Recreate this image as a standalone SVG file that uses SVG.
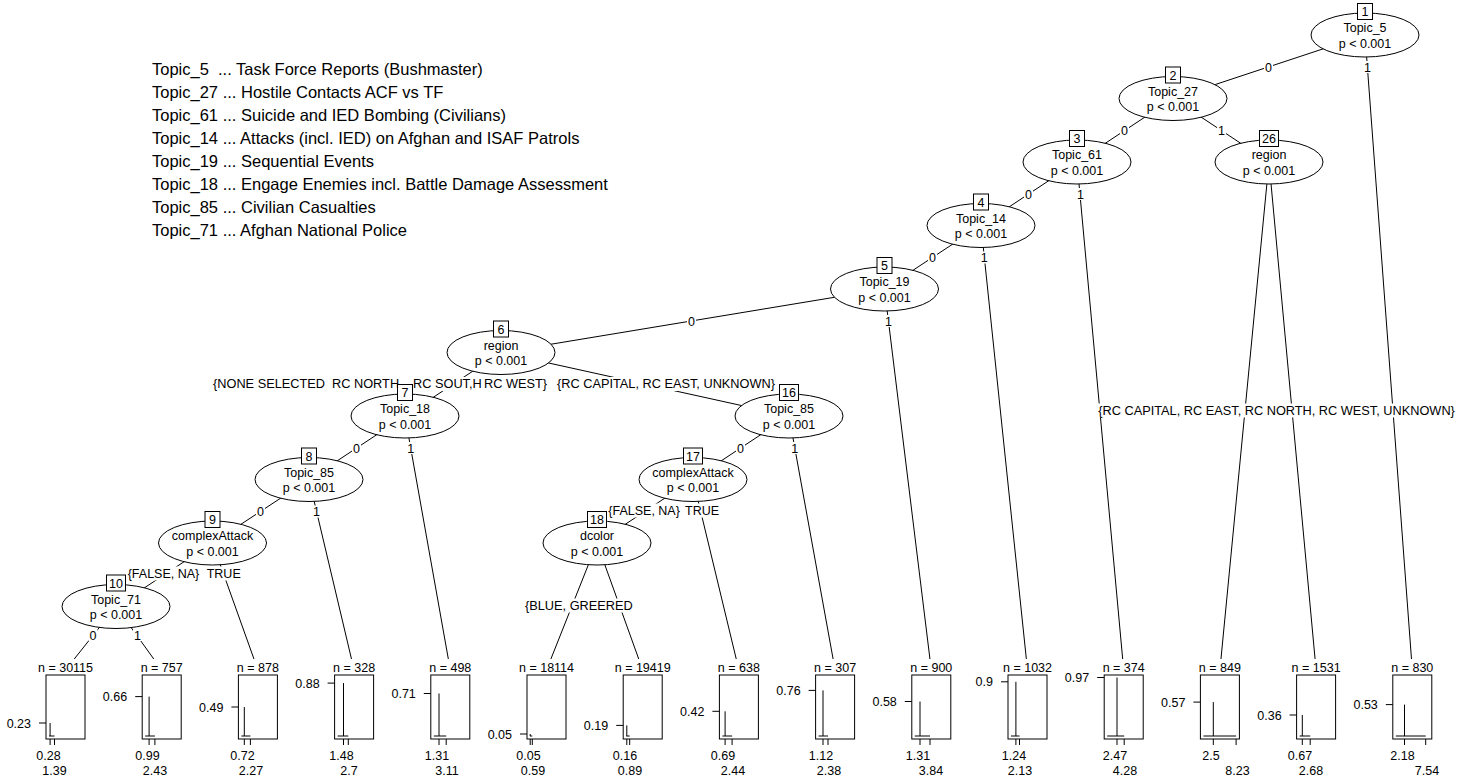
<svg xmlns="http://www.w3.org/2000/svg" width="1470" height="784" viewBox="0 0 1470 784">
<style>
text{font-family:"Liberation Sans",Arial,Helvetica,sans-serif;font-size:12.5px;fill:#000}
.c{text-anchor:middle}
.e{text-anchor:end}
.f{font-size:12.75px;white-space:pre}
.leg{font-size:16.5px;white-space:pre}
.ln{stroke:#000;stroke-width:1;fill:none}
.ell{fill:#fff;stroke:#000;stroke-width:1}
.nb{fill:#fff;stroke:#000;stroke-width:1}
.bg{fill:#fff;stroke:none}
.bx{fill:none;stroke:#000;stroke-width:1}
.sp{stroke:#000;stroke-width:1;fill:none}
</style>
<rect x="0" y="0" width="1470" height="784" fill="#fff"/>
<g id="legend">
<text class="leg" x="152" y="75">Topic_5  ... Task Force Reports (Bushmaster)</text>
<text class="leg" x="152" y="98">Topic_27 ... Hostile Contacts ACF vs TF</text>
<text class="leg" x="152" y="121">Topic_61 ... Suicide and IED Bombing (Civilians)</text>
<text class="leg" x="152" y="144">Topic_14 ... Attacks (incl. IED) on Afghan and ISAF Patrols</text>
<text class="leg" x="152" y="167">Topic_19 ... Sequential Events</text>
<text class="leg" x="152" y="190">Topic_18 ... Engage Enemies incl. Battle Damage Assessment</text>
<text class="leg" x="152" y="213">Topic_85 ... Civilian Casualties</text>
<text class="leg" x="152" y="236">Topic_71 ... Afghan National Police</text>
</g>
<g id="connectors">
<line class="ln" x1="1365" y1="35" x2="1173" y2="98.5"/>
<line class="ln" x1="1365" y1="35" x2="1412.3" y2="670"/>
<line class="ln" x1="1173" y1="98.5" x2="1077" y2="162"/>
<line class="ln" x1="1173" y1="98.5" x2="1269" y2="162"/>
<line class="ln" x1="1077" y1="162" x2="981" y2="225.5"/>
<line class="ln" x1="1077" y1="162" x2="1123.7" y2="670"/>
<line class="ln" x1="1269" y1="162" x2="1219.9" y2="670"/>
<line class="ln" x1="1269" y1="162" x2="1316.1" y2="670"/>
<line class="ln" x1="981" y1="225.5" x2="884.5" y2="289"/>
<line class="ln" x1="981" y1="225.5" x2="1027.5" y2="670"/>
<line class="ln" x1="884.5" y1="289" x2="501" y2="352.5"/>
<line class="ln" x1="884.5" y1="289" x2="931.3" y2="670"/>
<line class="ln" x1="501" y1="352.5" x2="405" y2="416"/>
<line class="ln" x1="501" y1="352.5" x2="789" y2="416"/>
<line class="ln" x1="405" y1="416" x2="309" y2="479.5"/>
<line class="ln" x1="405" y1="416" x2="450.3" y2="670"/>
<line class="ln" x1="309" y1="479.5" x2="212.5" y2="543"/>
<line class="ln" x1="309" y1="479.5" x2="354.1" y2="670"/>
<line class="ln" x1="212.5" y1="543" x2="116" y2="606.5"/>
<line class="ln" x1="212.5" y1="543" x2="257.9" y2="670"/>
<line class="ln" x1="116" y1="606.5" x2="65.5" y2="670"/>
<line class="ln" x1="116" y1="606.5" x2="161.7" y2="670"/>
<line class="ln" x1="789" y1="416" x2="693" y2="479.5"/>
<line class="ln" x1="789" y1="416" x2="835.1" y2="670"/>
<line class="ln" x1="693" y1="479.5" x2="597" y2="543"/>
<line class="ln" x1="693" y1="479.5" x2="738.9" y2="670"/>
<line class="ln" x1="597" y1="543" x2="546.5" y2="670"/>
<line class="ln" x1="597" y1="543" x2="642.7" y2="670"/>
<g id="edge-labels">
<rect class="bg" x="1264" y="61" width="9" height="12"/><text class="c" x="1268.5" y="71.5">0</text>
<rect class="bg" x="1363" y="61" width="9" height="12"/><text class="c" x="1367.5" y="71.5">1</text>
<rect class="bg" x="1120" y="124.5" width="9" height="12"/><text class="c" x="1124.6" y="135">0</text>
<rect class="bg" x="1217" y="124.5" width="9" height="12"/><text class="c" x="1221.4" y="135">1</text>
<rect class="bg" x="1024" y="188" width="9" height="12"/><text class="c" x="1028.6" y="198.5">0</text>
<rect class="bg" x="1076" y="188" width="9" height="12"/><text class="c" x="1080.5" y="198.5">1</text>
<rect class="bg" x="928" y="251.5" width="9" height="12"/><text class="c" x="932.6" y="262">0</text>
<rect class="bg" x="980" y="251.5" width="9" height="12"/><text class="c" x="984.3" y="262">1</text>
<rect class="bg" x="687" y="315" width="9" height="12"/><text class="c" x="691.5" y="325.5">0</text>
<rect class="bg" x="884" y="315" width="9" height="12"/><text class="c" x="888.4" y="325.5">1</text>
<rect class="bg" x="212" y="377" width="336" height="14"/>
<text class="f" x="213" y="388"><tspan x="213">{NONE SELECTED  RC NORTH</tspan><tspan x="413">RC SOUT,H</tspan><tspan x="484">RC WEST}</tspan></text>
<rect class="bg" x="556" y="377" width="222" height="14"/>
<text class="f" x="557" y="388">{RC CAPITAL, RC EAST, UNKNOWN}</text>
<rect class="bg" x="1097" y="403.5" width="360" height="14"/>
<text class="f" x="1098.3" y="414.5">{RC CAPITAL, RC EAST, RC NORTH, RC WEST, UNKNOWN}</text>
<rect class="bg" x="352" y="442" width="9" height="12"/><text class="c" x="356.6" y="452.5">0</text>
<rect class="bg" x="406" y="442" width="9" height="12"/><text class="c" x="410.7" y="452.5">1</text>
<rect class="bg" x="736" y="442" width="9" height="12"/><text class="c" x="740.6" y="452.5">0</text>
<rect class="bg" x="790" y="442" width="9" height="12"/><text class="c" x="794.8" y="452.5">1</text>
<rect class="bg" x="256" y="505.5" width="9" height="12"/><text class="c" x="260.6" y="516">0</text>
<rect class="bg" x="312" y="505.5" width="9" height="12"/><text class="c" x="316.6" y="516">1</text>
<rect class="bg" x="607.5" y="503.5" width="75" height="14"/><text x="608.3" y="514.5">{FALSE, NA}</text>
<rect class="bg" x="684.5" y="503.5" width="34" height="14"/><text x="685" y="514.5">TRUE</text>
<rect class="bg" x="127" y="566.5" width="73" height="14"/><text x="127.7" y="577.5">{FALSE, NA}</text>
<rect class="bg" x="206" y="566.5" width="35" height="14"/><text x="206.7" y="577.5">TRUE</text>
<rect class="bg" x="524" y="598.5" width="113" height="14"/><text class="f" x="525" y="609.5">{BLUE, GREERED</text>
<rect class="bg" x="88.5" y="629" width="9" height="12"/><text class="c" x="93" y="639.5">0</text>
<rect class="bg" x="133" y="629" width="9" height="12"/><text class="c" x="137.5" y="639.5">1</text>
</g>
</g>
<g id="node1"><ellipse class="ell" cx="1365" cy="35" rx="54" ry="22"/><rect class="nb" x="1357.5" y="3.5" width="15" height="16"/><text class="c" x="1365" y="16">1</text><text class="c" x="1365" y="32">Topic_5</text><text class="c" x="1365" y="47.5">p &lt; 0.001</text></g>
<g id="node2"><ellipse class="ell" cx="1173" cy="98.5" rx="54" ry="22"/><rect class="nb" x="1165.5" y="67" width="15" height="16"/><text class="c" x="1173" y="79.5">2</text><text class="c" x="1173" y="95.5">Topic_27</text><text class="c" x="1173" y="111">p &lt; 0.001</text></g>
<g id="node3"><ellipse class="ell" cx="1077" cy="162" rx="54" ry="22"/><rect class="nb" x="1069.5" y="130.5" width="15" height="16"/><text class="c" x="1077" y="143">3</text><text class="c" x="1077" y="159">Topic_61</text><text class="c" x="1077" y="174.5">p &lt; 0.001</text></g>
<g id="node26"><ellipse class="ell" cx="1269" cy="162" rx="54" ry="22"/><rect class="nb" x="1259.5" y="130.5" width="19" height="16"/><text class="c" x="1269" y="143">26</text><text class="c" x="1269" y="159">region</text><text class="c" x="1269" y="174.5">p &lt; 0.001</text></g>
<g id="node4"><ellipse class="ell" cx="981" cy="225.5" rx="54" ry="22"/><rect class="nb" x="973.5" y="194" width="15" height="16"/><text class="c" x="981" y="206.5">4</text><text class="c" x="981" y="222.5">Topic_14</text><text class="c" x="981" y="238">p &lt; 0.001</text></g>
<g id="node5"><ellipse class="ell" cx="884.5" cy="289" rx="54" ry="22"/><rect class="nb" x="877" y="257.5" width="15" height="16"/><text class="c" x="884.5" y="270">5</text><text class="c" x="884.5" y="286">Topic_19</text><text class="c" x="884.5" y="301.5">p &lt; 0.001</text></g>
<g id="node6"><ellipse class="ell" cx="501" cy="352.5" rx="54" ry="22"/><rect class="nb" x="493.5" y="321" width="15" height="16"/><text class="c" x="501" y="333.5">6</text><text class="c" x="501" y="349.5">region</text><text class="c" x="501" y="365">p &lt; 0.001</text></g>
<g id="node7"><ellipse class="ell" cx="405" cy="416" rx="54" ry="22"/><rect class="nb" x="397.5" y="384.5" width="15" height="16"/><text class="c" x="405" y="397">7</text><text class="c" x="405" y="413">Topic_18</text><text class="c" x="405" y="428.5">p &lt; 0.001</text></g>
<g id="node16"><ellipse class="ell" cx="789" cy="416" rx="54" ry="22"/><rect class="nb" x="779.5" y="384.5" width="19" height="16"/><text class="c" x="789" y="397">16</text><text class="c" x="789" y="413">Topic_85</text><text class="c" x="789" y="428.5">p &lt; 0.001</text></g>
<g id="node8"><ellipse class="ell" cx="309" cy="479.5" rx="54" ry="22"/><rect class="nb" x="301.5" y="448" width="15" height="16"/><text class="c" x="309" y="460.5">8</text><text class="c" x="309" y="476.5">Topic_85</text><text class="c" x="309" y="492">p &lt; 0.001</text></g>
<g id="node17"><ellipse class="ell" cx="693" cy="479.5" rx="54" ry="22"/><rect class="nb" x="683.5" y="448" width="19" height="16"/><text class="c" x="693" y="460.5">17</text><text class="c" x="693" y="476.5">complexAttack</text><text class="c" x="693" y="492">p &lt; 0.001</text></g>
<g id="node9"><ellipse class="ell" cx="212.5" cy="543" rx="54" ry="22"/><rect class="nb" x="205" y="511.5" width="15" height="16"/><text class="c" x="212.5" y="524">9</text><text class="c" x="212.5" y="540">complexAttack</text><text class="c" x="212.5" y="555.5">p &lt; 0.001</text></g>
<g id="node18"><ellipse class="ell" cx="597" cy="543" rx="54" ry="22"/><rect class="nb" x="587.5" y="511.5" width="19" height="16"/><text class="c" x="597" y="524">18</text><text class="c" x="597" y="540">dcolor</text><text class="c" x="597" y="555.5">p &lt; 0.001</text></g>
<g id="node10"><ellipse class="ell" cx="116" cy="606.5" rx="54" ry="22"/><rect class="nb" x="106.5" y="575" width="19" height="16"/><text class="c" x="116" y="587.5">10</text><text class="c" x="116" y="603.5">Topic_71</text><text class="c" x="116" y="619">p &lt; 0.001</text></g>

<g id="leaf11"><rect class="bg" x="34" y="659" width="63" height="14"/><text class="c" x="65.5" y="671.5">n = 30115</text><rect class="bx" x="46" y="675" width="39" height="64"/><line class="ln" x1="39" y1="723" x2="46" y2="723"/><text class="e" x="31" y="727.5">0.23</text><line class="sp" x1="50.1" y1="723" x2="50.1" y2="736"/><line class="sp" x1="49" y1="736" x2="54.5" y2="736"/><line class="ln" x1="50.1" y1="739" x2="50.1" y2="745"/><line class="ln" x1="54.5" y1="739" x2="54.5" y2="745"/><text class="c" x="48.5" y="760">0.28</text><text class="c" x="54.5" y="775">1.39</text></g>
<g id="leaf12"><rect class="bg" x="139" y="659" width="46" height="14"/><text class="c" x="161.7" y="671.5">n = 757</text><rect class="bx" x="142.2" y="675" width="39" height="64"/><line class="ln" x1="135.2" y1="696.6" x2="142.2" y2="696.6"/><text class="e" x="127.2" y="701.1">0.66</text><line class="sp" x1="149.1" y1="696.6" x2="149.1" y2="736"/><line class="sp" x1="145.2" y1="736" x2="154.9" y2="736"/><line class="ln" x1="149.1" y1="739" x2="149.1" y2="745"/><line class="ln" x1="154.9" y1="739" x2="154.9" y2="745"/><text class="c" x="147.5" y="760">0.99</text><text class="c" x="155" y="775">2.43</text></g>
<g id="leaf13"><rect class="bg" x="235" y="659" width="46" height="14"/><text class="c" x="257.9" y="671.5">n = 878</text><rect class="bx" x="238.4" y="675" width="39" height="64"/><line class="ln" x1="231.4" y1="707" x2="238.4" y2="707"/><text class="e" x="223.4" y="711.5">0.49</text><line class="sp" x1="244.3" y1="707" x2="244.3" y2="736"/><line class="sp" x1="241.4" y1="736" x2="250.4" y2="736"/><line class="ln" x1="244.3" y1="739" x2="244.3" y2="745"/><line class="ln" x1="250.4" y1="739" x2="250.4" y2="745"/><text class="c" x="242.5" y="760">0.72</text><text class="c" x="251" y="775">2.27</text></g>
<g id="leaf14"><rect class="bg" x="331" y="659" width="46" height="14"/><text class="c" x="354.1" y="671.5">n = 328</text><rect class="bx" x="334.6" y="675" width="39" height="64"/><line class="ln" x1="327.6" y1="683.1" x2="334.6" y2="683.1"/><text class="e" x="319.6" y="687.6">0.88</text><line class="sp" x1="343.5" y1="683.1" x2="343.5" y2="736"/><line class="sp" x1="337.6" y1="736" x2="348.3" y2="736"/><line class="ln" x1="343.5" y1="739" x2="343.5" y2="745"/><line class="ln" x1="348.3" y1="739" x2="348.3" y2="745"/><text class="c" x="341.5" y="760">1.48</text><text class="c" x="349" y="775">2.7</text></g>
<g id="leaf15"><rect class="bg" x="427" y="659" width="46" height="14"/><text class="c" x="450.3" y="671.5">n = 498</text><rect class="bx" x="430.8" y="675" width="39" height="64"/><line class="ln" x1="423.8" y1="693.5" x2="430.8" y2="693.5"/><text class="e" x="415.8" y="698">0.71</text><line class="sp" x1="439" y1="693.5" x2="439" y2="736"/><line class="sp" x1="433.8" y1="736" x2="446.2" y2="736"/><line class="ln" x1="439" y1="739" x2="439" y2="745"/><line class="ln" x1="446.2" y1="739" x2="446.2" y2="745"/><text class="c" x="437" y="760">1.31</text><text class="c" x="447" y="775">3.11</text></g>
<g id="leaf19"><rect class="bg" x="515" y="659" width="63" height="14"/><text class="c" x="546.5" y="671.5">n = 18114</text><rect class="bx" x="527" y="675" width="39" height="64"/><line class="ln" x1="520" y1="734" x2="527" y2="734"/><text class="e" x="512" y="738.5">0.05</text><line class="sp" x1="530.2" y1="734" x2="530.2" y2="736"/><line class="sp" x1="530" y1="736" x2="532.3" y2="736"/><line class="ln" x1="530.2" y1="739" x2="530.2" y2="745"/><line class="ln" x1="532.3" y1="739" x2="532.3" y2="745"/><text class="c" x="528.5" y="760">0.05</text><text class="c" x="533" y="775">0.59</text></g>
<g id="leaf20"><rect class="bg" x="611" y="659" width="63" height="14"/><text class="c" x="642.7" y="671.5">n = 19419</text><rect class="bx" x="623.2" y="675" width="39" height="64"/><line class="ln" x1="616.2" y1="725.4" x2="623.2" y2="725.4"/><text class="e" x="608.2" y="729.9">0.19</text><line class="sp" x1="626.8" y1="725.4" x2="626.8" y2="736"/><line class="sp" x1="626.2" y1="736" x2="629.7" y2="736"/><line class="ln" x1="626.8" y1="739" x2="626.8" y2="745"/><line class="ln" x1="629.7" y1="739" x2="629.7" y2="745"/><text class="c" x="625" y="760">0.16</text><text class="c" x="630" y="775">0.89</text></g>
<g id="leaf21"><rect class="bg" x="716" y="659" width="46" height="14"/><text class="c" x="738.9" y="671.5">n = 638</text><rect class="bx" x="719.4" y="675" width="39" height="64"/><line class="ln" x1="712.4" y1="711.3" x2="719.4" y2="711.3"/><text class="e" x="704.4" y="715.8">0.42</text><line class="sp" x1="725.1" y1="711.3" x2="725.1" y2="736"/><line class="sp" x1="722.4" y1="736" x2="732.1" y2="736"/><line class="ln" x1="725.1" y1="739" x2="725.1" y2="745"/><line class="ln" x1="732.1" y1="739" x2="732.1" y2="745"/><text class="c" x="723" y="760">0.69</text><text class="c" x="733" y="775">2.44</text></g>
<g id="leaf22"><rect class="bg" x="812" y="659" width="46" height="14"/><text class="c" x="835.1" y="671.5">n = 307</text><rect class="bx" x="815.6" y="675" width="39" height="64"/><line class="ln" x1="808.6" y1="690.4" x2="815.6" y2="690.4"/><text class="e" x="800.6" y="694.9">0.76</text><line class="sp" x1="823" y1="690.4" x2="823" y2="736"/><line class="sp" x1="818.6" y1="736" x2="828" y2="736"/><line class="ln" x1="823" y1="739" x2="823" y2="745"/><line class="ln" x1="828" y1="739" x2="828" y2="745"/><text class="c" x="821" y="760">1.12</text><text class="c" x="829" y="775">2.38</text></g>
<g id="leaf23"><rect class="bg" x="908" y="659" width="46" height="14"/><text class="c" x="931.3" y="671.5">n = 900</text><rect class="bx" x="911.8" y="675" width="39" height="64"/><line class="ln" x1="904.8" y1="701.5" x2="911.8" y2="701.5"/><text class="e" x="896.8" y="706">0.58</text><line class="sp" x1="920" y1="701.5" x2="920" y2="736"/><line class="sp" x1="914.8" y1="736" x2="930" y2="736"/><line class="ln" x1="920" y1="739" x2="920" y2="745"/><line class="ln" x1="930" y1="739" x2="930" y2="745"/><text class="c" x="918" y="760">1.31</text><text class="c" x="931" y="775">3.84</text></g>
<g id="leaf24"><rect class="bg" x="996" y="659" width="63" height="14"/><text class="c" x="1027.5" y="671.5">n = 1032</text><rect class="bx" x="1008" y="675" width="39" height="64"/><line class="ln" x1="1001" y1="681.8" x2="1008" y2="681.8"/><text class="e" x="993" y="686.3">0.9</text><line class="sp" x1="1015.9" y1="681.8" x2="1015.9" y2="736"/><line class="sp" x1="1011" y1="736" x2="1019.5" y2="736"/><line class="ln" x1="1015.9" y1="739" x2="1015.9" y2="745"/><line class="ln" x1="1019.5" y1="739" x2="1019.5" y2="745"/><text class="c" x="1014" y="760">1.24</text><text class="c" x="1020" y="775">2.13</text></g>
<g id="leaf25"><rect class="bg" x="1100" y="659" width="46" height="14"/><text class="c" x="1123.7" y="671.5">n = 374</text><rect class="bx" x="1104.2" y="675" width="39" height="64"/><line class="ln" x1="1097.2" y1="677.5" x2="1104.2" y2="677.5"/><text class="e" x="1089.2" y="682">0.97</text><line class="sp" x1="1117" y1="677.5" x2="1117" y2="736"/><line class="sp" x1="1107.2" y1="736" x2="1124.2" y2="736"/><line class="ln" x1="1117" y1="739" x2="1117" y2="745"/><line class="ln" x1="1124.2" y1="739" x2="1124.2" y2="745"/><text class="c" x="1115" y="760">2.47</text><text class="c" x="1125" y="775">4.28</text></g>
<g id="leaf27"><rect class="bg" x="1196" y="659" width="46" height="14"/><text class="c" x="1219.9" y="671.5">n = 849</text><rect class="bx" x="1200.4" y="675" width="39" height="64"/><line class="ln" x1="1193.4" y1="702.1" x2="1200.4" y2="702.1"/><text class="e" x="1185.4" y="706.6">0.57</text><line class="sp" x1="1213.3" y1="702.1" x2="1213.3" y2="736"/><line class="sp" x1="1203.4" y1="736" x2="1236.1" y2="736"/><line class="ln" x1="1213.3" y1="739" x2="1213.3" y2="745"/><line class="ln" x1="1236.1" y1="739" x2="1236.1" y2="745"/><text class="c" x="1211" y="760">2.5</text><text class="c" x="1237.5" y="775">8.23</text></g>
<g id="leaf28"><rect class="bg" x="1285" y="659" width="63" height="14"/><text class="c" x="1316.1" y="671.5">n = 1531</text><rect class="bx" x="1296.6" y="675" width="39" height="64"/><line class="ln" x1="1289.6" y1="715" x2="1296.6" y2="715"/><text class="e" x="1281.6" y="719.5">0.36</text><line class="sp" x1="1302.3" y1="715" x2="1302.3" y2="736"/><line class="sp" x1="1299.6" y1="736" x2="1310.2" y2="736"/><line class="ln" x1="1302.3" y1="739" x2="1302.3" y2="745"/><line class="ln" x1="1310.2" y1="739" x2="1310.2" y2="745"/><text class="c" x="1300" y="760">0.67</text><text class="c" x="1311" y="775">2.68</text></g>
<g id="leaf29"><rect class="bg" x="1389" y="659" width="46" height="14"/><text class="c" x="1412.3" y="671.5">n = 830</text><rect class="bx" x="1392.8" y="675" width="39" height="64"/><line class="ln" x1="1385.8" y1="704.6" x2="1392.8" y2="704.6"/><text class="e" x="1377.8" y="709.1">0.53</text><line class="sp" x1="1404.5" y1="704.6" x2="1404.5" y2="736"/><line class="sp" x1="1395.8" y1="736" x2="1425.7" y2="736"/><line class="ln" x1="1404.5" y1="739" x2="1404.5" y2="745"/><line class="ln" x1="1425.7" y1="739" x2="1425.7" y2="745"/><text class="c" x="1402.5" y="760">2.18</text><text class="c" x="1427" y="775">7.54</text></g>
</svg>
